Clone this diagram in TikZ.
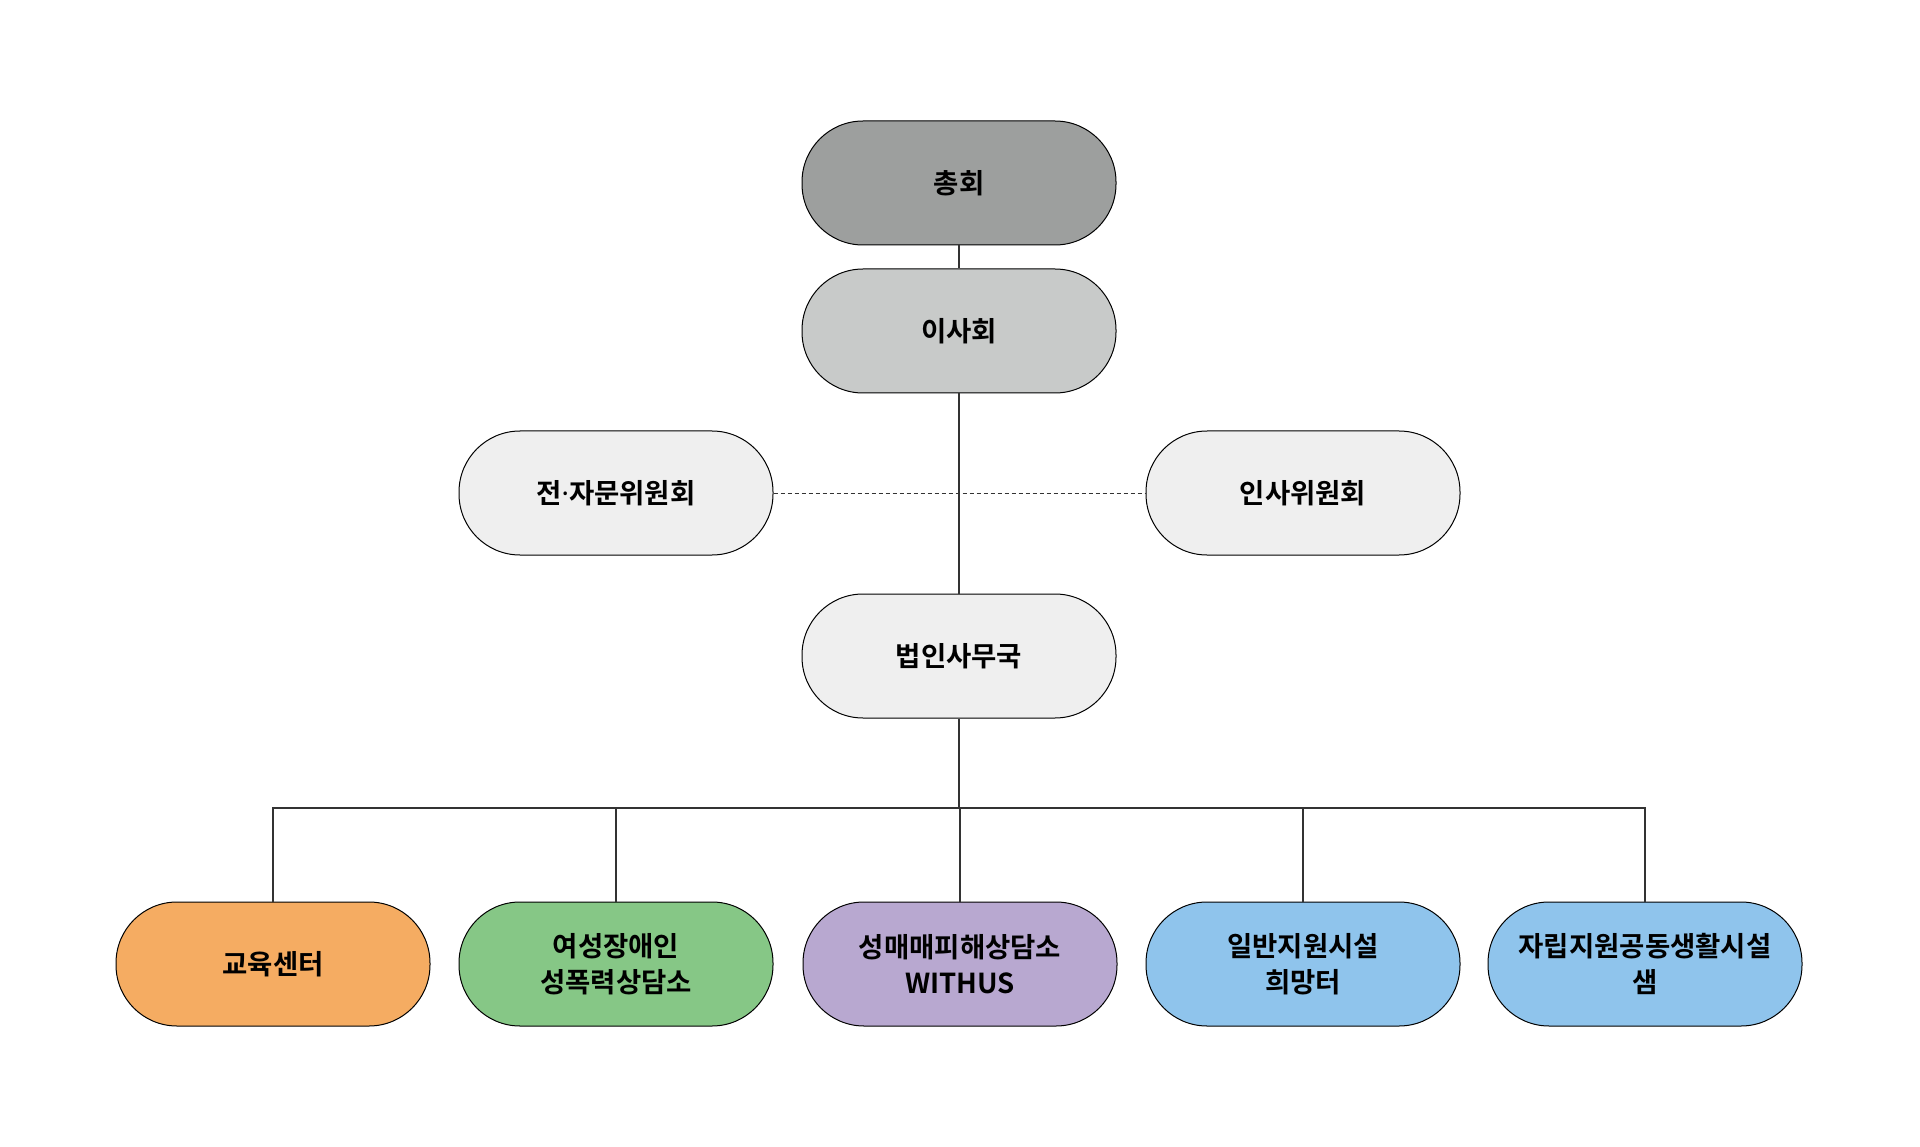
\documentclass[tikz,border=0pt]{standalone}
\usepackage{fontspec}
\setmainfont{Noto Sans CJK KR}[BoldFont={* Bold}]
\newfontfamily\latinb{Noto Sans}
\definecolor{cTop}{HTML}{9D9F9E}
\definecolor{cBoard}{HTML}{C8CAC9}
\definecolor{cLight}{HTML}{EFEFEF}
\definecolor{cOrange}{HTML}{F5AC62}
\definecolor{cGreen}{HTML}{86C786}
\definecolor{cPurple}{HTML}{B8A8D0}
\definecolor{cBlue}{HTML}{8FC4EC}
\definecolor{cLine}{HTML}{333333}
\begin{document}
\begin{tikzpicture}[x=1pt,y=-1pt,
  pill/.style={draw=black, line width=1pt, rectangle, rounded corners=61pt,
    minimum width=314pt, minimum height=124pt, inner sep=0pt,
    align=center, font=\fontsize{27.5}{36}\selectfont\bfseries},
  conn/.style={draw=cLine, line width=1.3pt},
  dconn/.style={draw=cLine, line width=1pt, dash pattern=on 4pt off 3pt}]
\useasboundingbox (0,0) rectangle (1920,1147);
\fill[white] (0,0) rectangle (1920,1147);
\node[pill, fill=cTop]   (gen)   at (959,183) {총회};
\node[pill, fill=cBoard] (board) at (959,331) {이사회};
\node[pill, fill=cLight] (adv)   at (616,493) {전{\latinb\bfseries ·}자문위원회};
\node[pill, fill=cLight] (hr)    at (1303,493) {인사위원회};
\node[pill, fill=cLight] (office) at (959,656) {법인사무국};
\node[pill, fill=cOrange] (edu) at (273,964) {교육센터};
\node[pill, fill=cGreen]  (dis) at (616,964) {여성장애인\\성폭력상담소};
\node[pill, fill=cPurple] (with) at (960,964) {성매매피해상담소\\WITHUS};
\node[pill, fill=cBlue]   (hope) at (1303,964) {일반지원시설\\희망터};
\node[pill, fill=cBlue]   (saem) at (1645,964) {자립지원공동생활시설\\샘};
\coordinate (bus) at (959,808);
\draw[conn] (gen.south) -- (board.north);
\draw[conn] (board.south) -- (office.north);
\draw[dconn] (adv.east) -- (hr.west);
\draw[conn] (office.south) -- (bus);
\draw[conn] (edu.north) |- (bus);
\draw[conn] (saem.north) |- (bus);
\draw[conn] (dis.north) -- (dis.north |- bus);
\draw[conn] (with.north) -- (with.north |- bus);
\draw[conn] (hope.north) -- (hope.north |- bus);
\end{tikzpicture}
\end{document}
